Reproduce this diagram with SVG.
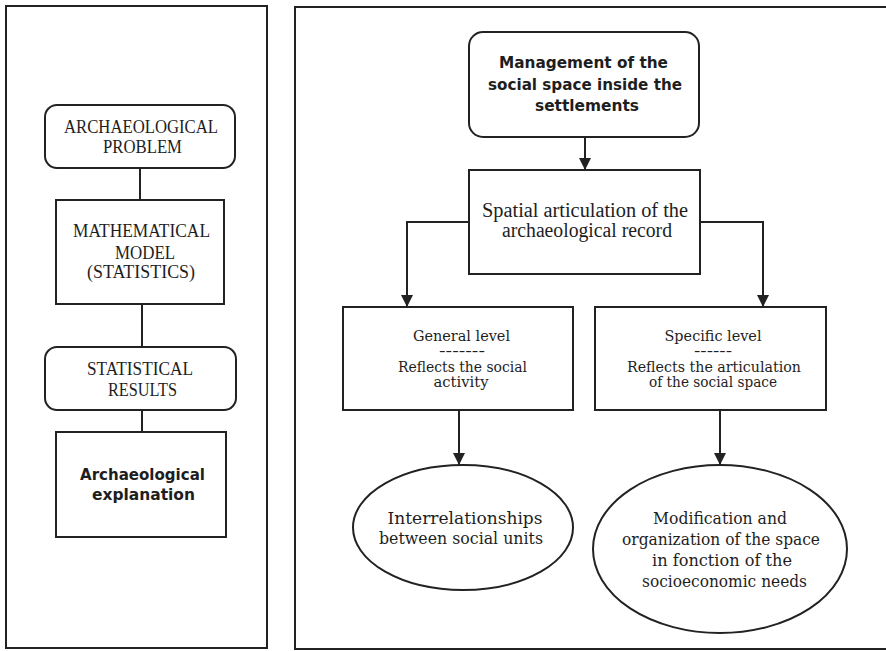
<svg xmlns="http://www.w3.org/2000/svg" width="886" height="651" viewBox="0 0 886 651">
<style>
.bg{fill:#ffffff}
.frame{fill:none;stroke:#222;stroke-width:2}
.box{fill:#ffffff;stroke:#222;stroke-width:2}
.conn{fill:none;stroke:#222;stroke-width:2}
text{fill:#1e1e1e;text-anchor:middle}
.caps{font-family:"Liberation Serif","Times New Roman",serif;font-size:18px}
.bold{font-family:"DejaVu Sans","Liberation Sans",sans-serif;font-weight:bold;font-size:16px}
.ser{font-family:"Liberation Serif","Times New Roman",serif;font-size:20px}
.small{font-family:"DejaVu Serif","Liberation Serif",serif;font-size:14px}
.ell{font-family:"DejaVu Serif","Liberation Serif",serif;font-size:16px}
</style>
<defs>
<marker id="arrow" markerUnits="userSpaceOnUse" markerWidth="12" markerHeight="12" viewBox="0 0 12 12" refX="12" refY="6" orient="auto">
<path d="M0,0 L12,6 L0,12 Z" fill="#222"/>
</marker>
</defs>
<rect class="bg" x="0" y="0" width="886" height="651"/>
<g id="frames">
<rect class="frame" x="6" y="6" width="261" height="642"/>
<path class="frame" d="M886,7 H295 V649 H886"/>
</g>
<g id="connectors">
<line class="conn" x1="140" y1="168" x2="140" y2="200"/>
<line class="conn" x1="142" y1="304" x2="142" y2="347"/>
<line class="conn" x1="142" y1="410" x2="142" y2="432"/>
<line class="conn" x1="585" y1="137" x2="585" y2="170" marker-end="url(#arrow)"/>
<path class="conn" d="M469,222 H407 V307" marker-end="url(#arrow)"/>
<path class="conn" d="M700,222 H763 V307" marker-end="url(#arrow)"/>
<line class="conn" x1="459" y1="410" x2="459" y2="465" marker-end="url(#arrow)"/>
<line class="conn" x1="720" y1="410" x2="720" y2="465" marker-end="url(#arrow)"/>
</g>
<g id="archaeological-problem">
<rect class="box" x="45" y="105" width="190" height="63" rx="12"/>
<text class="caps" x="141" y="133" textLength="154" lengthAdjust="spacingAndGlyphs">ARCHAEOLOGICAL</text>
<text class="caps" x="142.5" y="153" textLength="79" lengthAdjust="spacingAndGlyphs">PROBLEM</text>
</g>
<g id="mathematical-model">
<rect class="box" x="56" y="200" width="168" height="104"/>
<text class="caps" x="141.5" y="237" textLength="137" lengthAdjust="spacingAndGlyphs">MATHEMATICAL</text>
<text class="caps" x="145" y="259" textLength="60" lengthAdjust="spacingAndGlyphs">MODEL</text>
<text class="caps" x="141" y="278" textLength="108" lengthAdjust="spacingAndGlyphs">(STATISTICS)</text>
</g>
<g id="statistical-results">
<rect class="box" x="45" y="347" width="191" height="63" rx="12"/>
<text class="caps" x="140" y="375" textLength="106" lengthAdjust="spacingAndGlyphs">STATISTICAL</text>
<text class="caps" x="142.5" y="396" textLength="69" lengthAdjust="spacingAndGlyphs">RESULTS</text>
</g>
<g id="archaeological-explanation">
<rect class="box" x="56" y="432" width="170" height="105"/>
<text class="bold" x="142.5" y="480" textLength="125" lengthAdjust="spacingAndGlyphs">Archaeological</text>
<text class="bold" x="143.5" y="500" textLength="103" lengthAdjust="spacingAndGlyphs">explanation</text>
</g>
<g id="management">
<rect class="box" x="469" y="32" width="230" height="105" rx="14"/>
<text class="bold" x="583.5" y="68" textLength="169" lengthAdjust="spacingAndGlyphs">Management of the</text>
<text class="bold" x="585" y="90" textLength="194" lengthAdjust="spacingAndGlyphs">social space inside the</text>
<text class="bold" x="587" y="111" textLength="104" lengthAdjust="spacingAndGlyphs">settlements</text>
</g>
<g id="spatial-articulation">
<rect class="box" x="469" y="170" width="231" height="104"/>
<text class="ser" x="585" y="217" textLength="206" lengthAdjust="spacingAndGlyphs">Spatial articulation of the</text>
<text class="ser" x="587" y="237" textLength="170" lengthAdjust="spacingAndGlyphs">archaeological record</text>
</g>
<g id="general-level">
<rect class="box" x="343" y="307" width="230" height="103"/>
<text class="small" x="461.5" y="341" textLength="97" lengthAdjust="spacingAndGlyphs">General level</text>
<text class="small" x="462" y="356" textLength="46" lengthAdjust="spacingAndGlyphs">-------</text>
<text class="small" x="462.5" y="372" textLength="129" lengthAdjust="spacingAndGlyphs">Reflects the social</text>
<text class="small" x="461" y="387" textLength="55" lengthAdjust="spacingAndGlyphs">activity</text>
</g>
<g id="specific-level">
<rect class="box" x="595" y="307" width="231" height="103"/>
<text class="small" x="713" y="341" textLength="97" lengthAdjust="spacingAndGlyphs">Specific level</text>
<text class="small" x="713" y="356" textLength="38" lengthAdjust="spacingAndGlyphs">------</text>
<text class="small" x="714" y="372" textLength="174" lengthAdjust="spacingAndGlyphs">Reflects the articulation</text>
<text class="small" x="713" y="387" textLength="128" lengthAdjust="spacingAndGlyphs">of the social space</text>
</g>
<g id="interrelationships">
<ellipse class="box" cx="463" cy="527.5" rx="110" ry="62.5"/>
<text class="ell" x="465" y="524" textLength="155" lengthAdjust="spacingAndGlyphs">Interrelationships</text>
<text class="ell" x="461" y="544" textLength="164" lengthAdjust="spacingAndGlyphs">between social units</text>
</g>
<g id="modification">
<ellipse class="box" cx="720" cy="549" rx="127" ry="84"/>
<text class="ell" x="720" y="524" textLength="134" lengthAdjust="spacingAndGlyphs">Modification and</text>
<text class="ell" x="721" y="545" textLength="198" lengthAdjust="spacingAndGlyphs">organization of the space</text>
<text class="ell" x="722" y="566" textLength="140" lengthAdjust="spacingAndGlyphs">in fonction of the</text>
<text class="ell" x="724.5" y="587" textLength="165" lengthAdjust="spacingAndGlyphs">socioeconomic needs</text>
</g>
</svg>
